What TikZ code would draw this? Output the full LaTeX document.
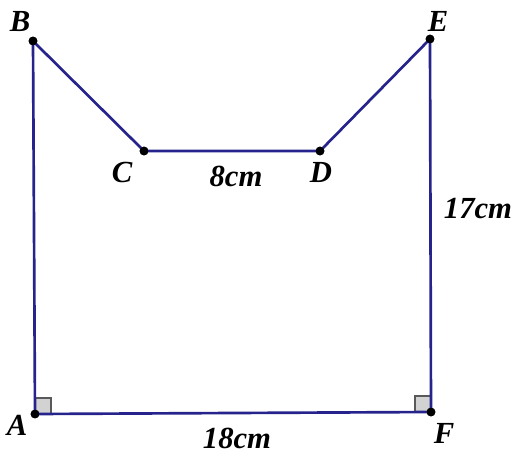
\documentclass[tikz,border=0pt]{standalone}
\usepackage{fontspec}
\setmainfont{Liberation Serif}
\usepackage{tikz}
\usetikzlibrary{positioning}
\definecolor{segblue}{RGB}{38,36,140}
\newcommand\Lbl[1]{\fontsize{23}{27}\selectfont\bfseries\itshape #1}

\begin{document}
\begin{tikzpicture}[x=0.75pt, y=-0.75pt,
    seg/.style = {segblue, line width=2pt},
    pt/.style = {circle, fill=black, inner sep=0pt, minimum size=6.5pt},
    rmark/.style = {fill=gray!35, draw=black!65, line width=1pt},
    lbl/.style = {inner sep=0pt, font=\Lbl}]
                \useasboundingbox (0,0) rectangle (525,458);
                % right angle marks
                \draw[rmark] (35,414) rectangle (51,398);
                \draw[rmark] (431,412) rectangle (415,396);
                % vertices
                \node [pt] at (33,41) (B) {};
                \node [pt] at (144,151) (C) {};
                \node [pt] at (320,151) (D) {};
                \node [pt] at (430,39) (E) {};
                \node [pt] at (35,414) (A) {};
                \node [pt] at (431,412) (F) {};
                \draw[seg] (B.center) -- (C.center) -- (D.center) -- (E.center) -- (F.center) -- (A.center) -- cycle;
                \foreach \p in {A,B,C,D,E,F} {
                  \node [pt] at (\p) {};
                }
                % letters
                \node [lbl] at (20,22) (lB) {B};
                \node [lbl] at (122,172) (lC) {C};
                \node [lbl] at (321,172) (lD) {D};
                \node [lbl] at (438,21) (lE) {E};
                \node [lbl] at (17,425) (lA) {A};
                \node [lbl] at (444,433) (lF) {F};
                % lengths
                \node [lbl] at (236,176) (l8) {8cm};
                \node [lbl] at (478,209) (l17) {17cm};
                \node [lbl] at (237,438) (l18) {18cm};
            \end{tikzpicture}
\end{document}
